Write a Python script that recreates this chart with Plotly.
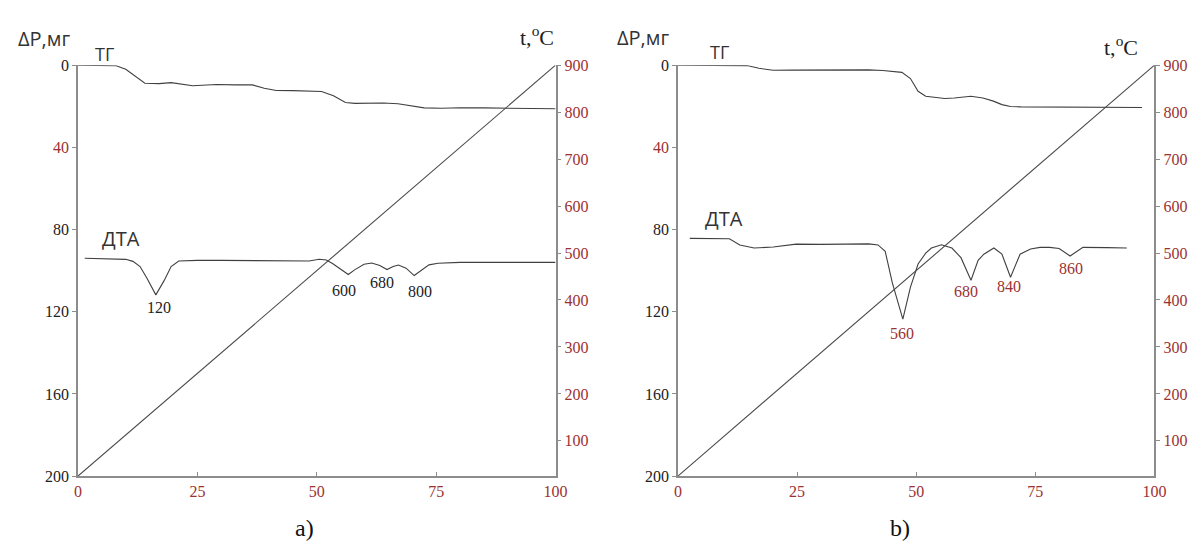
import plotly.graph_objects as go

# ---------------- data: panel a) ----------------
time_tg_a = [0, 5, 8, 10, 12, 14, 17, 19.5, 24, 29, 33, 36.5, 39, 41.5, 45, 48, 51, 53.5, 56, 58, 61, 64, 67, 70, 72.5, 76, 80, 85, 90, 95, 100]
tg_a = [0, 0, 0.3, 2, 5.5, 8.8, 9, 8.5, 10, 9.4, 9.6, 9.6, 11.2, 12.3, 12.4, 12.6, 12.8, 14.9, 18.2, 18.6, 18.5, 18.4, 18.8, 19.8, 20.8, 21.0, 20.7, 20.8, 21.0, 21.0, 21.2]

time_dta_a = [1.4, 6, 10, 11.5, 13, 14.5, 16.3, 18, 19.5, 21.1, 25, 30, 35, 40, 45, 48.4, 50.5, 52, 53.3, 55, 56.6, 58, 59.9, 61.5, 63.2, 64.7, 66, 67.1, 68.7, 70.4, 72, 73.5, 75.4, 80, 90, 100]
dta_a = [94.0, 94.1, 94.5, 95.5, 98, 104, 111.8, 105, 98, 95.3, 95, 95, 95, 95.1, 95.2, 95.3, 94.5, 94.8, 96.5, 99.5, 101.9, 99.5, 96.9, 96.3, 97.5, 99.5, 98, 97.3, 98.8, 102.4, 99.5, 97.2, 96.4, 96, 96, 96]

peak_text_a = ["120", "600", "680", "800"]
peak_time_a = [17, 55.7, 63.7, 71.6]
peak_level_a = [118, 109.5, 106, 110]

# ---------------- data: panel b) ----------------
time_tg_b = [0, 8, 14.5, 17, 20, 24, 27, 30.5, 35, 40, 43, 45, 47, 48.8, 50.4, 52, 54, 56, 58, 61.5, 64, 66.2, 68, 69.8, 72, 78, 85, 92, 97.4]
tg_b = [0, 0, 0.2, 1.5, 2.5, 2.4, 2.4, 2.2, 2.2, 2.3, 2.6, 3.0, 3.5, 6.5, 12.7, 15.1, 15.8, 16.2, 16.0, 15.1, 16.0, 17.5, 19.2, 20.1, 20.3, 20.3, 20.4, 20.5, 20.6]

time_dta_b = [2.5, 7, 10.8, 13, 16, 20, 24.8, 30, 35, 40, 42, 43.5, 45, 47.2, 48.8, 50.4, 52, 53.2, 55.3, 57.5, 59.4, 61.5, 63, 64.2, 66.3, 68, 69.8, 71, 71.8, 74, 76, 78, 80, 82.3, 84, 85, 90, 94.2]
dta_b = [84.3, 84.3, 84.5, 87.5, 89, 88.5, 87.1, 87.2, 87.0, 87.0, 87.5, 90.6, 106, 123.6, 108, 96.8, 91.5, 89, 87.4, 89, 93.7, 104.7, 95, 92, 89, 92, 103.2, 96, 92, 89.5, 88.7, 88.7, 89.2, 92.9, 90, 88.7, 88.8, 89]

peak_text_b = ["560", "680", "840", "860"]
peak_time_b = [47, 60.5, 69.4, 82.5]
peak_level_b = [130.7, 110.2, 107.9, 99.2]

# temperature program (both panels)
time_temp = [0, 100]
temp = [25, 900]

# axis ticks
x_ticks = [0, 25, 50, 75, 100]
dp_ticks = [0, 40, 80, 120, 160, 200]
t_ticks = [100, 200, 300, 400, 500, 600, 700, 800, 900]

# ---------------- styling ----------------
W, H = 1200, 550
RED = "#9b3232"
AX = "#8c8c8c"
LINE = "#404040"
SERIF = "Liberation Serif"
SANS = "Open Sans"

def px_x(p):
    return p / W

def px_y(p):
    return 1 - p / H

top, bottom = 59, 483
ydom = [px_y(bottom), px_y(top)]

fig = go.Figure()

def add_panel(xa, ya, ya2, tt, tg, td, dta):
    fig.add_trace(go.Scatter(x=tt, y=tg, mode="lines", line=dict(color=LINE, width=1.1),
                             xaxis=xa, yaxis=ya, hoverinfo="skip"))
    fig.add_trace(go.Scatter(x=td, y=dta, mode="lines", line=dict(color=LINE, width=1.1),
                             xaxis=xa, yaxis=ya, hoverinfo="skip"))
    fig.add_trace(go.Scatter(x=time_temp, y=temp, mode="lines", line=dict(color="#4a4a4a", width=1.1),
                             xaxis=xa, yaxis=ya2, hoverinfo="skip"))

add_panel("x", "y", "y2", time_tg_a, tg_a, time_dta_a, dta_a)
add_panel("x2", "y3", "y4", time_tg_b, tg_b, time_dta_b, dta_b)

dp_text = [f'<span style="color:{RED}">{v}</span>' if v == 40 else str(v) for v in dp_ticks]

tickfont_red = dict(family=SERIF, size=16, color=RED)
tickfont_blk = dict(family=SERIF, size=16, color="#222222")

def xaxis_cfg(domain, anchor):
    return dict(domain=domain, anchor=anchor, range=[0, 100], tickvals=x_ticks,
                ticks="inside", ticklen=4, tickcolor=AX, showline=True, linecolor=AX,
                linewidth=1.5, showgrid=False, zeroline=False, tickfont=tickfont_red)

def yaxis_cfg(anchor):
    return dict(domain=ydom, anchor=anchor, range=[200, 0], tickvals=dp_ticks, ticktext=dp_text,
                ticks="outside", ticklen=4, tickcolor=AX, showline=True, linecolor=AX,
                linewidth=1.5, showgrid=False, zeroline=False, tickfont=tickfont_blk)

def taxis_cfg(anchor, over):
    return dict(overlaying=over, anchor=anchor, side="right", range=[25, 900], tickvals=t_ticks,
                ticks="outside", ticklen=4, tickcolor=AX, showline=True, linecolor=AX,
                linewidth=1.5, showgrid=False, zeroline=False, tickfont=tickfont_red)

annotations = []

def label(text, x, y, size, family=SANS, color="#333333"):
    annotations.append(dict(text=text, x=px_x(x), y=px_y(y), xref="paper", yref="paper",
                            showarrow=False, xanchor="center", yanchor="middle",
                            font=dict(family=family, size=size, color=color)))

# panel a labels
label("ΔP,мг", 41, 31, 20)
label("ТГ", 102, 47, 18)
label("ДТА", 119, 238, 20)
label("t,<sup>o</sup>C", 540, 29, 22, family=SERIF, color="#222222")
label("a)", 305, 537, 24, family=SERIF, color="#111111")
# panel b labels
label("ΔP,мг", 648, 30, 20)
label("ТГ", 725, 45, 18)
label("ДТА", 730, 217, 20)
label("t,<sup>o</sup>C", 1132, 39, 22, family=SERIF, color="#222222")
label("b)", 908, 537, 24, family=SERIF, color="#111111")

for t, xv, yv in zip(peak_text_a, peak_time_a, peak_level_a):
    annotations.append(dict(text=t, x=xv, y=yv, xref="x", yref="y", showarrow=False,
                            font=dict(family=SERIF, size=16, color="#222222")))
for t, xv, yv in zip(peak_text_b, peak_time_b, peak_level_b):
    annotations.append(dict(text=t, x=xv, y=yv, xref="x2", yref="y3", showarrow=False,
                            font=dict(family=SERIF, size=16, color=RED)))

fig.update_layout(
    width=W, height=H,
    margin=dict(l=0, r=0, t=0, b=0),
    paper_bgcolor="white", plot_bgcolor="white",
    showlegend=False,
    xaxis=xaxis_cfg([px_x(75), px_x(559)], "y"),
    yaxis=yaxis_cfg("x"),
    yaxis2=taxis_cfg("x", "y"),
    xaxis2=xaxis_cfg([px_x(683), px_x(1166)], "y3"),
    yaxis3=yaxis_cfg("x2"),
    yaxis4=taxis_cfg("x2", "y3"),
    annotations=annotations,
)

fig.write_html("out.html")
